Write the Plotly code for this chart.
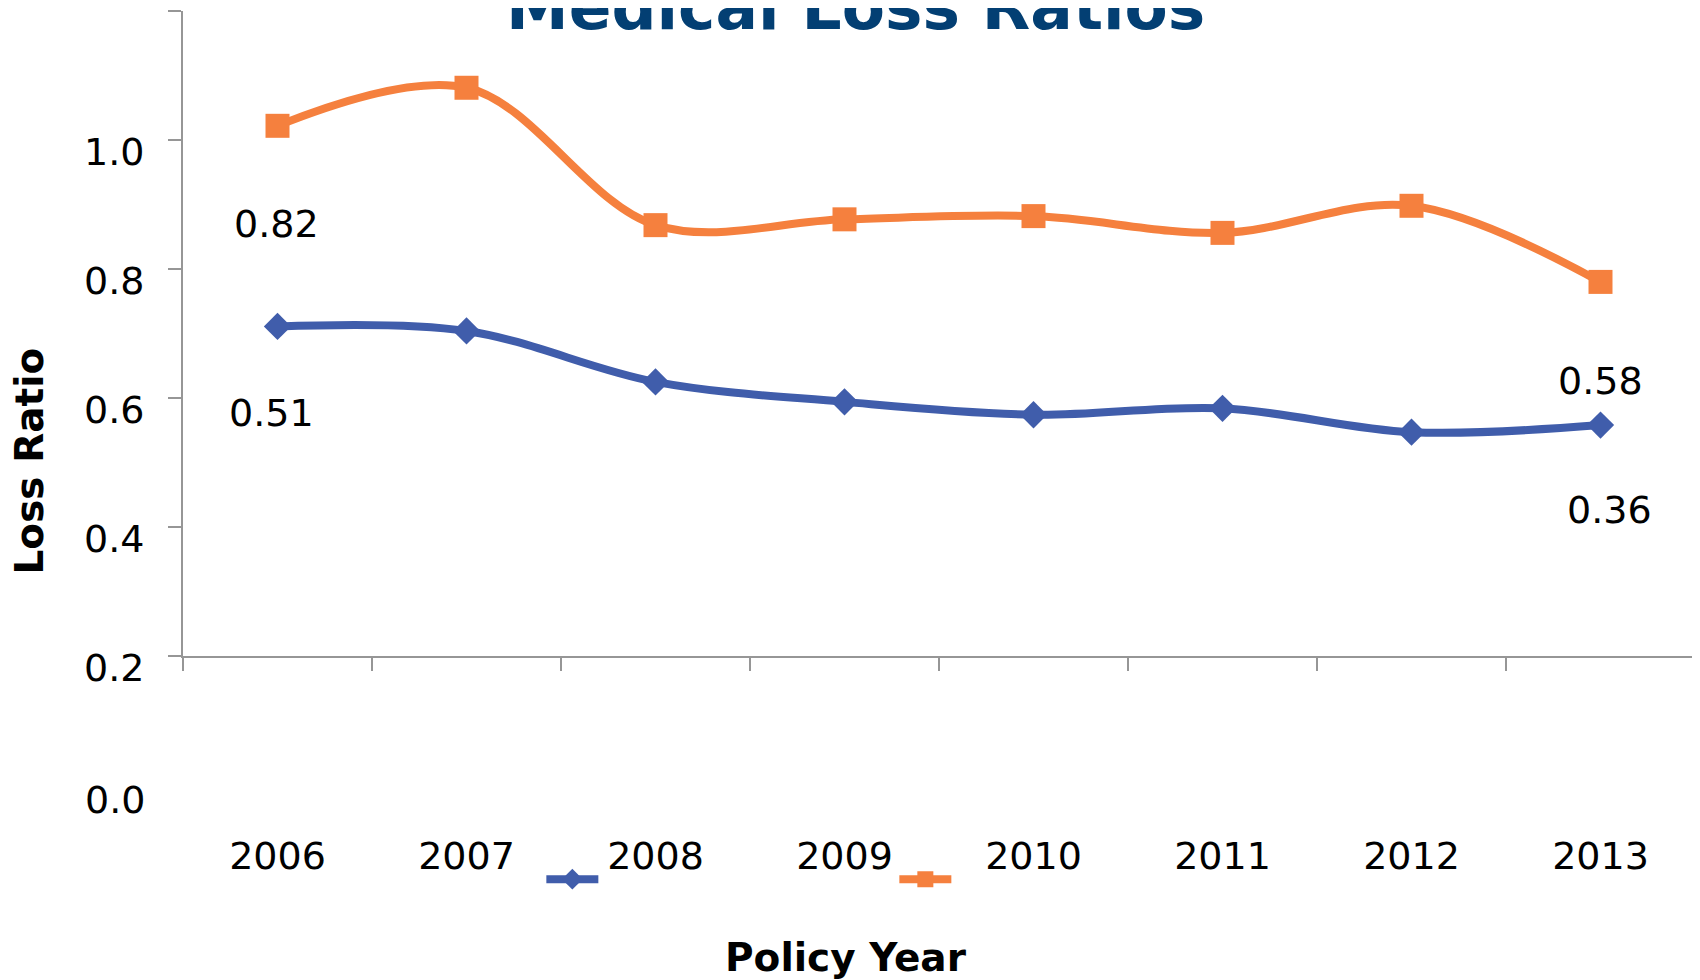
import plotly.graph_objects as go

years = ["2006", "2007", "2008", "2009", "2010", "2011", "2012", "2013"]
series_orange = [0.822, 0.881, 0.668, 0.677, 0.682, 0.656, 0.698, 0.580]
series_blue = [0.511, 0.504, 0.425, 0.394, 0.374, 0.384, 0.347, 0.358]

y_range = [0.0, 1.0]
ytick_vals = [0.0, 0.2, 0.4, 0.6, 0.8, 1.0]
ytick_text = ["0.2", "0.4", "0.6", "0.8", "1.0", ""]
extra_ytick_val = -0.2
extra_ytick_text = "0.0"

# data labels: (series, index)
label_points = [("orange", 0), ("orange", 7), ("blue", 0), ("blue", 7)]

ORANGE = "#F5803E"
BLUE = "#405DAB"
GRAY = "#969696"
FONT = "DejaVu Sans"

fig = go.Figure()
fig.add_trace(go.Scatter(
    x=years, y=series_blue, mode="lines+markers", name=" ",
    line=dict(color=BLUE, width=8, shape="spline"),
    marker=dict(symbol="diamond", size=21, color=BLUE),
))
fig.add_trace(go.Scatter(
    x=years, y=series_orange, mode="lines+markers", name=" ",
    line=dict(color=ORANGE, width=8, shape="spline"),
    marker=dict(symbol="square", size=24, color=ORANGE),
))

series = {"orange": series_orange, "blue": series_blue}
label_shift = {("orange", 0): (-1, -98), ("orange", 7): (0, -99),
               ("blue", 0): (-6, -87), ("blue", 7): (9, -85)}
annotations = []
for s, i in label_points:
    v = series[s][i]
    dx, dy = label_shift[(s, i)]
    annotations.append(dict(
        x=i, y=v, xref="x", yref="y", text=f"{v:.2f}",
        showarrow=False, xshift=dx, yshift=dy,
        font=dict(family=FONT, size=38, color="black"),
    ))

extra_frac = (extra_ytick_val - y_range[0]) / (y_range[1] - y_range[0])
annotations.append(dict(
    x=0, y=extra_frac, xref="paper", yref="paper", text=extra_ytick_text,
    showarrow=False, xanchor="right", yanchor="middle", xshift=-36, yshift=-15,
    font=dict(family=FONT, size=38, color="black"),
))
annotations.append(dict(
    x=0.5, y=1.0, xref="paper", yref="paper", text="<b>Medical Loss Ratios</b>",
    showarrow=False, xanchor="center", yanchor="bottom", xshift=-84, yshift=-35,
    font=dict(family=FONT, size=63, color="#033F73"),
))
annotations.append(dict(
    x=0, y=0.5, xref="paper", yref="paper", text="<b>Loss Ratio</b>",
    showarrow=False, textangle=-90, xanchor="center", yanchor="middle",
    xshift=-154, yshift=-128,
    font=dict(family=FONT, size=39, color="black"),
))
annotations.append(dict(
    x=0.5, y=0, xref="paper", yref="paper", text="<b>Policy Year</b>",
    showarrow=False, xanchor="center", yanchor="middle",
    xshift=-93, yshift=-301,
    font=dict(family=FONT, size=39, color="black"),
))

fig.update_layout(
    width=1692, height=972,
    margin=dict(l=175, r=5, t=3, b=324, autoexpand=False),
    paper_bgcolor="white", plot_bgcolor="white",
    font=dict(family=FONT, size=38, color="black"),
    annotations=annotations,
    showlegend=True,
    legend=dict(
        orientation="h", x=0.237, y=-0.346, xanchor="left", yanchor="middle",
        entrywidth=286, entrywidthmode="pixels", itemwidth=52,
        bgcolor="rgba(0,0,0,0)", font=dict(size=20),
    ),
    xaxis=dict(
        type="category", range=[-0.5, 7.5], tickson="boundaries",
        showline=True, linecolor=GRAY, linewidth=2,
        ticks="outside", ticklen=13, tickcolor=GRAY, tickwidth=2,
        showgrid=False, zeroline=False, ticklabelstandoff=165,
        tickfont=dict(family=FONT, size=38), automargin=False,
    ),
    yaxis=dict(
        range=y_range, tickvals=ytick_vals, ticktext=ytick_text,
        showline=True, linecolor=GRAY, linewidth=2,
        ticks="outside", ticklen=13, tickcolor=GRAY, tickwidth=2,
        showgrid=False, zeroline=False, ticklabelshift=12, ticklabelstandoff=16,
        tickfont=dict(family=FONT, size=38), automargin=False,
    ),
)

fig.write_html("out.html")
